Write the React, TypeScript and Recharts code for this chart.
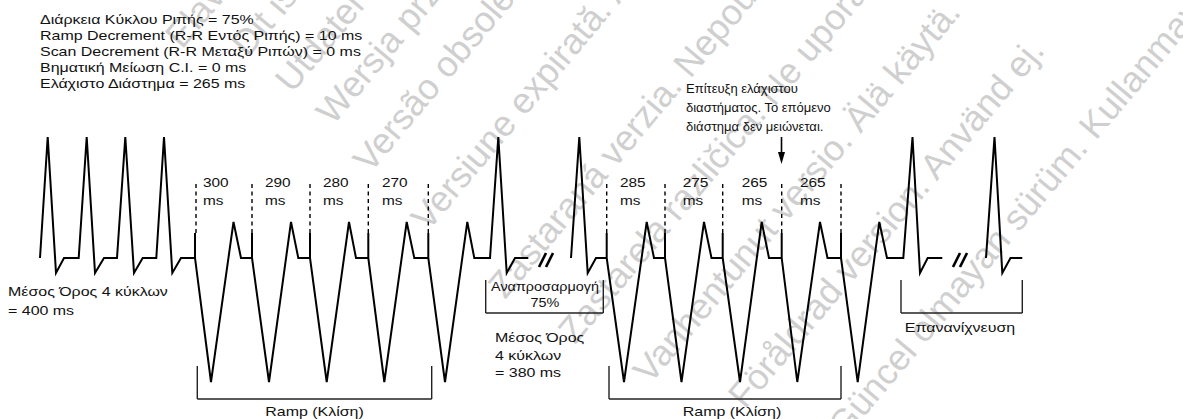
import React from 'react';
import { ComposedChart, Line, XAxis, YAxis, ReferenceLine, ReferenceDot } from 'recharts';

// trace stretches: [time on strip, amplitude above baseline]
const strip1: [number, number][] = [
  [40, 0], [47.7, 121], [56, -15], [64, 0], [78.7, 0],
  [86.7, 121], [95, -15], [104, 0], [117, 0],
  [125.3, 121], [134, -15], [142.7, 0], [156.3, 0],
  [164, 121], [172.3, -15], [181, 0], [195, 0],
  [195, 25], [195, 0], [211, -124], [233.5, 36], [241, 0], [252, 0],
  [252, 25], [252, 0], [269, -124], [291, 36], [298.3, 0], [310, 0],
  [310, 25], [310, 0], [326.7, -124], [349, 36], [356, 0], [368.3, 0],
  [368.3, 25], [368.3, 0], [384.3, -124], [406.7, 36], [414.3, 0], [428.3, 0],
  [428.3, 25], [428.3, 0], [445, -124], [467.3, 36], [474.3, 0], [490, 0],
  [498.3, 121], [506.7, -15], [515, 0], [528.3, 0],
];
const strip2: [number, number][] = [
  [571, 0], [579.3, 121], [587.7, -15], [596, 0], [606.7, 0],
  [606.7, 25], [606.7, 0], [624, -124], [646.7, 36], [654, 0], [665, 0],
  [665, 25], [665, 0], [681.5, -124], [704, 36], [711.5, 0], [722.7, 0],
  [722.7, 25], [722.7, 0], [740, -124], [761.7, 36], [769, 0], [781.7, 0],
  [781.7, 25], [781.7, 0], [797.3, -124], [820, 36], [827.5, 0], [841, 0],
  [841, 25], [841, 0], [857.7, -124], [879.3, 36], [887, 0], [903.3, 0],
  [912.5, 121], [920, -15], [927.7, 0], [942.3, 0],
];
const strip3: [number, number][] = [
  [986, 0], [994.5, 121], [1002.3, -15], [1010.5, 0], [1022.3, 0],
];

// paced beats (dashed markers) and their R-R intervals
const pace1 = [196, 252, 310, 368.3, 428.3];
const pace2 = [606.7, 665, 722.7, 781.7, 841];
const ramp1Labels = ['300', '290', '280', '270'];
const ramp2Labels = ['285', '275', '265', '265'];

const toRows = (s: [number, number][]) => s.map(([t, v]) => ({ t, v }));
const strips = [toRows(strip1), toRows(strip2), toRows(strip3)];

const W = 1183;
const H = 419;
const BASE = 258; // baseline, px from top
const py = (y: number) => BASE - y; // px from top -> amplitude
const FONT = '"Liberation Sans", Arial, sans-serif';

const ramp1LabelX = [203, 265, 323, 382];
const ramp2LabelX = [620, 682.7, 741.7, 800];

type Note = { x: number; y: number; text: string; size: number; sx?: number; anchor?: 'start' | 'middle' };
const notes: Note[] = [
  { x: 40, y: 24, text: 'Διάρκεια Κύκλου Ριπής = 75%', size: 13.3 },
  { x: 40, y: 40, text: 'Ramp Decrement (R-R Εντός Ριπής) = 10 ms', size: 13.3 },
  { x: 40, y: 56, text: 'Scan Decrement (R-R Μεταξύ Ριπών) = 0 ms', size: 13.3 },
  { x: 40, y: 72, text: 'Βηματική Μείωση C.I. = 0 ms', size: 13.3 },
  { x: 40, y: 88, text: 'Ελάχιστο Διάστημα = 265 ms', size: 13.3 },
  { x: 8, y: 296, text: 'Μέσος Όρος 4 κύκλων', size: 13.3 },
  { x: 8, y: 315, text: '= 400 ms', size: 13.3 },
  { x: 495, y: 342, text: 'Μέσος Όρος', size: 13.3 },
  { x: 495, y: 360, text: '4 κύκλων', size: 13.3 },
  { x: 495, y: 377, text: '= 380 ms', size: 13.3 },
  { x: 686, y: 92.5, text: 'Επίτευξη ελάχιστου', size: 13, sx: 1 },
  { x: 686, y: 111.5, text: 'διαστήματος. Το επόμενο', size: 13, sx: 1 },
  { x: 686, y: 130.5, text: 'διάστημα δεν μειώνεται.', size: 13, sx: 1 },
  { x: 545, y: 291, text: 'Αναπροσαρμογή', size: 12, anchor: 'middle' },
  { x: 545, y: 307, text: '75%', size: 12, anchor: 'middle' },
  { x: 314.5, y: 416, text: 'Ramp (Κλίση)', size: 13.3, anchor: 'middle' },
  { x: 732, y: 416, text: 'Ramp (Κλίση)', size: 13.3, anchor: 'middle' },
  { x: 960, y: 332, text: 'Επανανίχνευση', size: 13.3, anchor: 'middle' },
  ...ramp1Labels.flatMap((s, i) => [
    { x: ramp1LabelX[i], y: 187, text: s, size: 13.5, sx: 1.14 },
    { x: ramp1LabelX[i], y: 205, text: 'ms', size: 13.5, sx: 1.14 },
  ]),
  ...ramp2Labels.flatMap((s, i) => [
    { x: ramp2LabelX[i], y: 187, text: s, size: 13.5, sx: 1.14 },
    { x: ramp2LabelX[i], y: 205, text: 'ms', size: 13.5, sx: 1.14 },
  ]),
];

// brackets: left x, right x, top px, bottom px
const brackets = [
  [197.3, 431.7, 366, 399],
  [609, 841, 366, 399],
  [485.7, 603.3, 280, 313],
  [901, 1022.3, 280, 313],
];

const breaks = [539, 953];

// faint diagonal watermark behind the drawing
const watermark: [number, number, string][] = [
  [182, 50, 'Elavult verzió. Ne használja!'],
  [248, 58, 'Dit is een verouderde versie. Niet gebruiken.'],
  [292, 94, 'Utdatert versjon. Skal ikke brukes.'],
  [333, 126, 'Wersja przeterminowana. Nie używać.'],
  [370, 174, 'Versão obsoleta. Não utilize.'],
  [428, 232, 'Versiune expirată. A nu se utiliza.'],
  [505, 300, 'Zastaraná verzia. Nepoužívať.'],
  [575, 345, 'Zastarela različica. Ne uporabite.'],
  [650, 385, 'Vanhentunut versio. Älä käytä.'],
  [745, 410, 'Föråldrad version. Använd ej.'],
  [845, 440, 'Güncel olmayan sürüm. Kullanmayın.'],
];

const Arrow = (p: any) => {
  const { x1, y1, x2, y2 } = p;
  return (
    <g>
      <line x1={x1} y1={y1} x2={x2} y2={y2 - 11} stroke="#000" strokeWidth={1.6} />
      <polygon points={`${x2 - 3.5},${y2 - 12} ${x2 + 3.5},${y2 - 12} ${x2},${y2}`} fill="#000" />
    </g>
  );
};

export default function App() {
  return (
    <div style={{ position: 'absolute', left: 0, top: 0, width: W, height: H, background: '#fff', overflow: 'hidden' }}>
      <svg width={W} height={H} style={{ position: 'absolute', left: 0, top: 0 }}>
        {watermark.map(([x, y, s]) => (
          <text
            key={s}
            transform={`translate(${x} ${y}) rotate(-50)`}
            fontSize={36}
            fontFamily={FONT}
            fill="#cfcfcf"
          >
            {s}
          </text>
        ))}
      </svg>
      <div style={{ position: 'absolute', left: 0, top: 0 }}>
        <ComposedChart width={W} height={H} margin={{ top: 0, right: 0, bottom: 0, left: 0 }}>
          <XAxis dataKey="t" type="number" domain={[0, W]} hide allowDuplicatedCategory={false} />
          <YAxis type="number" domain={[py(H), BASE]} hide />

          {[...pace1, ...pace2].map((x) => (
            <ReferenceLine
              key={'p' + x}
              segment={[{ x, y: py(233) }, { x, y: py(182) }]}
              stroke="#000"
              strokeWidth={1.4}
              strokeDasharray="4 3.5"
            />
          ))}

          {brackets.map(([l, r, top, bot], i) => (
            <React.Fragment key={'b' + i}>
              <ReferenceLine segment={[{ x: l, y: py(top) }, { x: l, y: py(bot) }]} stroke="#222" strokeWidth={1.4} />
              <ReferenceLine segment={[{ x: l, y: py(bot) }, { x: r, y: py(bot) }]} stroke="#222" strokeWidth={1.4} />
              <ReferenceLine segment={[{ x: r, y: py(top) }, { x: r, y: py(bot) }]} stroke="#222" strokeWidth={1.4} />
            </React.Fragment>
          ))}

          {breaks.map((b) => (
            <React.Fragment key={'k' + b}>
              <ReferenceLine segment={[{ x: b, y: py(267) }, { x: b + 7, y: py(253) }]} stroke="#000" strokeWidth={2.6} />
              <ReferenceLine segment={[{ x: b + 7, y: py(267) }, { x: b + 14, y: py(253) }]} stroke="#000" strokeWidth={2.6} />
            </React.Fragment>
          ))}

          <ReferenceLine segment={[{ x: 781.5, y: py(137) }, { x: 781.5, y: py(164) }]} shape={Arrow} />

          {strips.map((d, i) => (
            <Line
              key={'s' + i}
              data={d}
              dataKey="v"
              type="linear"
              stroke="#000"
              strokeWidth={2}
              dot={false}
              activeDot={false}
              isAnimationActive={false}
            />
          ))}

          {notes.map((n, i) => (
            <ReferenceDot
              key={'n' + i}
              x={n.x}
              y={py(n.y)}
              r={0}
              fill="none"
              stroke="none"
              shape={(p: any) => (
                <text
                  transform={`translate(${p.cx} ${p.cy}) scale(${n.sx ?? 1.2} 1)`}
                  fontSize={n.size}
                  fontFamily={FONT}
                  fill="#111"
                  textAnchor={n.anchor ?? 'start'}
                >
                  {n.text}
                </text>
              )}
            />
          ))}
        </ComposedChart>
      </div>
    </div>
  );
}
